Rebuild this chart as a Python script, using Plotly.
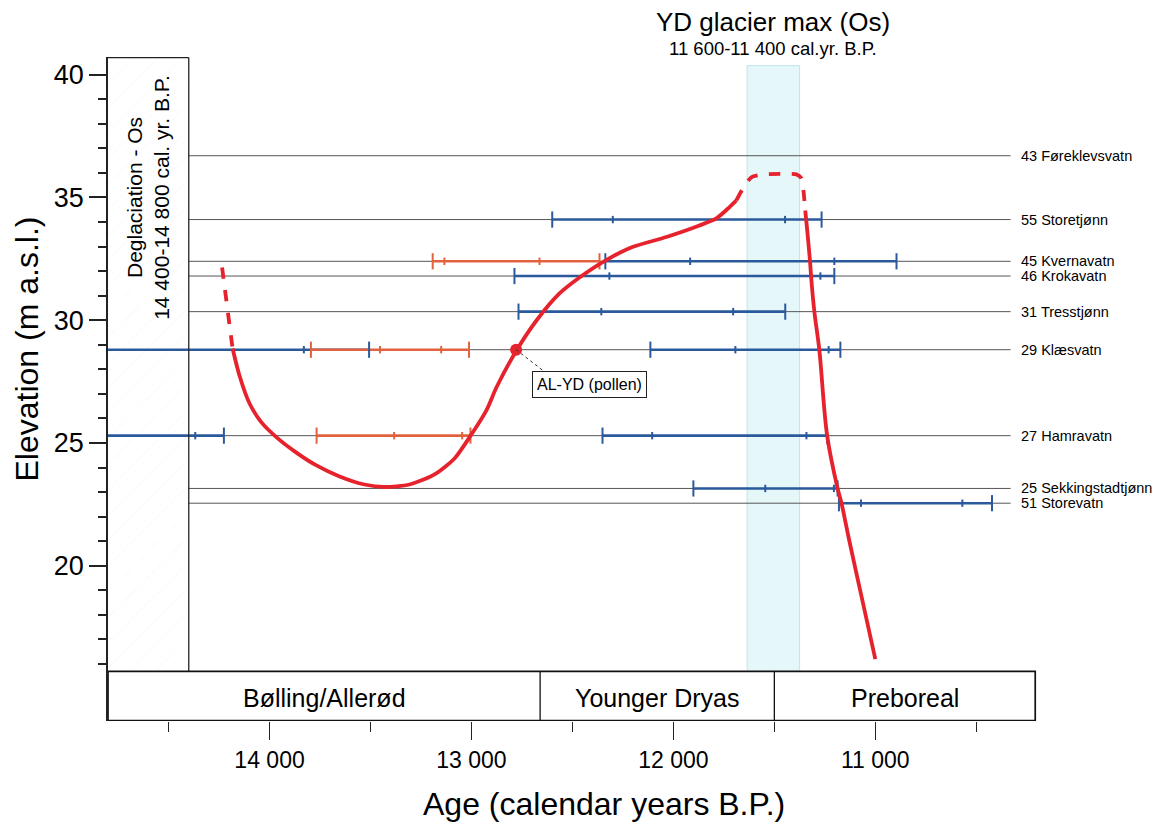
import plotly.graph_objects as go

# ---------------- data ----------------
site_names = ["43 Føreklevsvatn", "55 Storetjønn", "45 Kvernavatn", "46 Krokavatn",
              "31 Tresstjønn", "29 Klæsvatn", "27 Hamravatn", "25 Sekkingstadtjønn",
              "51 Storevatn"]
site_elev = [36.7, 34.1, 32.4, 31.8, 30.35, 28.8, 25.3, 23.15, 22.55]
site_line_old = 14400
site_line_young = 10330
label_age = 10287

# dated isolation ranges (cal. yr BP): outer range and inner range per segment
seg_site = [1, 2, 2, 3, 4, 5, 5, 5, 6, 6, 6, 7, 8]
seg_method = ["B", "O", "B", "B", "B", "B", "O", "B", "B", "O", "B", "B", "B"]
seg_old_outer = [12600, 13192, 12337, 12787, 12767, 15000, 13795, 12114, 15000, 13767, 12351, 11901, 11180]
seg_old_inner = [12300, 13134, 11917, 12317, 12357, 15000, 13453, 11693, 15000, 13383, 12105, 11545, 11071]
seg_young_inner = [11447, 12663, 11203, 11272, 11704, 13830, 13150, 11231, 14368, 13046, 11341, 11205, 10569]
seg_young_outer = [11266, 12366, 10895, 11203, 11446, 13507, 13012, 11173, 14226, 13005, 11239, 11187, 10422]

# relative sea-level curve
curve_a_age = [14235, 14183]
curve_a_elev = [32.15, 28.85]
curve_b_age = [14183, 14149, 14099, 14040, 13965, 13876, 13777, 13653, 13530, 13431, 13307,
               13183, 13084, 13010, 12926, 12876, 12777, 12678, 12564, 12465, 12337, 12203,
               12035, 11871, 11787, 11723, 11688]
curve_b_elev = [28.85, 27.75, 26.61, 25.84, 25.23, 24.66, 24.13, 23.64, 23.31, 23.21, 23.31,
                23.72, 24.37, 25.23, 26.33, 27.27, 28.77, 29.99, 31.09, 31.74, 32.43, 32.98,
                33.39, 33.86, 34.15, 34.6, 34.88]
curve_c_age = [11688, 11653, 11614, 11550, 11450, 11391, 11366, 11356, 11347]
curve_c_elev = [34.88, 35.41, 35.82, 35.94, 35.96, 35.94, 35.78, 35.29, 34.47]
curve_d_age = [11347, 11342, 11323, 11318, 11302, 11277, 11238, 11187, 11168, 11129, 11064, 11000]
curve_d_elev = [34.47, 34.07, 32.37, 31.78, 30.36, 28.77, 25.27, 23.16, 22.57, 21.03, 18.59, 16.2]

al_yd_age = 12779
al_yd_elev = 28.8

zones = ["Bølling/Allerød", "Younger Dryas", "Preboreal"]
zone_bounds = [14800, 12660, 11500, 10208]

deglac_old, deglac_young = 14800, 14400
yd_max_old, yd_max_young = 11635, 11375

x_major = [14000, 13000, 12000, 11000]
x_major_text = ["14 000", "13 000", "12 000", "11 000"]
x_minor = [14500, 13500, 12500, 11500, 10500]
y_major = [20, 25, 30, 35, 40]
y_minor = [v for v in range(16, 40) if v % 5 != 0]

# ---------------- style ----------------
FONT = "Liberation Sans, Arial, sans-serif"
BLUE = "#2b5a9c"
ORANGE = "#e2623e"
RED = "#e6222d"
GREY = "#555555"
method_color = {"B": BLUE, "O": ORANGE}
X_RANGE = [14800, 9600]
Y_RANGE = [13.68, 40.72]
bar_top = 15.7
bar_bottom = 13.7
plot_top = 40.7

fig = go.Figure()

# deglaciation hatched box
fig.add_trace(go.Scatter(
    x=[deglac_old, deglac_young, deglac_young, deglac_old, deglac_old],
    y=[bar_top, bar_top, plot_top, plot_top, bar_top],
    fill="toself", mode="lines", line=dict(width=0), fillcolor="white",
    fillpattern=dict(shape="/", fgcolor="#efefef", bgcolor="white", size=18, solidity=0.05),
    hoverinfo="skip", showlegend=False))

# site reference lines
for e in site_elev:
    fig.add_trace(go.Scatter(x=[site_line_old, site_line_young], y=[e, e], mode="lines",
                             line=dict(color=GREY, width=1), hoverinfo="skip", showlegend=False))

# dated range segments
for i in range(len(seg_site)):
    e = site_elev[seg_site[i]]
    fig.add_trace(go.Scatter(x=[seg_old_outer[i], seg_young_outer[i]], y=[e, e], mode="lines",
                             line=dict(color=method_color[seg_method[i]], width=2.6),
                             hoverinfo="skip", showlegend=False))
for i in range(len(seg_site)):
    e = site_elev[seg_site[i]]
    c = method_color[seg_method[i]]
    tx, ty = [], []
    for a in (seg_old_outer[i], seg_young_outer[i]):
        tx += [a, a, None]
        ty += [e - 0.33, e + 0.33, None]
    fig.add_trace(go.Scatter(x=tx, y=ty, mode="lines", line=dict(color=c, width=2),
                             hoverinfo="skip", showlegend=False))
    sx, sy = [], []
    for a in (seg_old_inner[i], seg_young_inner[i]):
        sx += [a, a, None]
        sy += [e - 0.15, e + 0.15, None]
    fig.add_trace(go.Scatter(x=sx, y=sy, mode="lines", line=dict(color=c, width=2),
                             hoverinfo="skip", showlegend=False))

# sea-level curve
fig.add_trace(go.Scatter(x=curve_a_age, y=curve_a_elev, mode="lines",
                         line=dict(color=RED, width=3.8, dash="dash"), hoverinfo="skip", showlegend=False))
fig.add_trace(go.Scatter(x=curve_b_age, y=curve_b_elev, mode="lines",
                         line=dict(color=RED, width=3.8, shape="spline", smoothing=0.7),
                         hoverinfo="skip", showlegend=False))
fig.add_trace(go.Scatter(x=curve_c_age, y=curve_c_elev, mode="lines",
                         line=dict(color=RED, width=3.8, dash="dash", shape="spline", smoothing=0.6),
                         hoverinfo="skip", showlegend=False))
fig.add_trace(go.Scatter(x=curve_d_age, y=curve_d_elev, mode="lines",
                         line=dict(color=RED, width=3.8, shape="spline", smoothing=1.0),
                         hoverinfo="skip", showlegend=False))

# AL-YD marker
fig.add_trace(go.Scatter(x=[al_yd_age], y=[al_yd_elev], mode="markers",
                         marker=dict(color=RED, size=12), hoverinfo="skip", showlegend=False))

shapes = []
# YD glacier max band
shapes.append(dict(type="rect", xref="x", yref="y", x0=yd_max_old, x1=yd_max_young,
                   y0=bar_top, y1=40.37, fillcolor="rgba(214,242,247,0.6)",
                   line=dict(color="rgba(170,222,232,0.7)", width=1), layer="below"))
# deglaciation box edges
shapes.append(dict(type="line", xref="x", yref="y", x0=deglac_young, x1=deglac_young,
                   y0=bar_top, y1=plot_top, line=dict(color="#222", width=1.3)))
shapes.append(dict(type="line", xref="x", yref="y", x0=deglac_old, x1=deglac_young,
                   y0=plot_top, y1=plot_top, line=dict(color="#222", width=1.3)))
# chronozone bar
shapes.append(dict(type="rect", xref="x", yref="y", x0=zone_bounds[0], x1=zone_bounds[-1],
                   y0=bar_bottom, y1=bar_top, line=dict(color="#111", width=1.7),
                   fillcolor="rgba(0,0,0,0)"))
for b in zone_bounds[1:-1]:
    shapes.append(dict(type="line", xref="x", yref="y", x0=b, x1=b, y0=bar_bottom, y1=bar_top,
                       line=dict(color="#111", width=1.3)))
# AL-YD leader line
shapes.append(dict(type="line", xref="x", yref="y", x0=al_yd_age, y0=al_yd_elev,
                   x1=12630, y1=27.85, line=dict(color="#333", width=1, dash="dot")))

annotations = []
for n, e in zip(site_names, site_elev):
    annotations.append(dict(x=label_age, y=e, xref="x", yref="y", text=n, showarrow=False,
                            xanchor="left", yanchor="middle",
                            font=dict(family=FONT, size=14.5, color="black")))
for k, z in enumerate(zones):
    annotations.append(dict(x=(zone_bounds[k] + zone_bounds[k + 1]) / 2, y=14.62,
                            xref="x", yref="y", text=z, showarrow=False,
                            font=dict(family=FONT, size=25, color="black")))
annotations.append(dict(x=12416, y=27.39, xref="x", yref="y", text="AL-YD (pollen)",
                        showarrow=False, bordercolor="#222", borderwidth=1, borderpad=4,
                        bgcolor="white", font=dict(family=FONT, size=16, color="black")))
annotations.append(dict(x=(deglac_old + deglac_young) / 2, y=35.0, xref="x", yref="y",
                        text="Deglaciation - Os<br>14 400-14 800 cal. yr. B.P.",
                        textangle=-90, showarrow=False,
                        font=dict(family=FONT, size=21, color="black")))
annotations.append(dict(x=(yd_max_old + yd_max_young) / 2, y=1.053, xref="x", yref="paper",
                        text="YD glacier max (Os)", showarrow=False, yanchor="middle",
                        font=dict(family=FONT, size=26, color="black")))
annotations.append(dict(x=(yd_max_old + yd_max_young) / 2, y=1.0135, xref="x", yref="paper",
                        text="11 600-11 400 cal.yr. B.P.", showarrow=False, yanchor="middle",
                        font=dict(family=FONT, size=18.5, color="black")))
annotations.append(dict(x=0.4724, y=-0.125, xref="paper", yref="paper",
                        text="Age (calendar years B.P.)", showarrow=False, yanchor="middle",
                        font=dict(family=FONT, size=32, color="black")))
annotations.append(dict(x=-0.0762, y=0.561, xref="paper", yref="paper",
                        text="Elevation (m a.s.l.)", showarrow=False, textangle=-90,
                        xanchor="center", yanchor="middle",
                        font=dict(family=FONT, size=32, color="black")))

fig.update_layout(
    width=1168, height=823,
    margin=dict(l=108, r=10, t=57, b=102),
    paper_bgcolor="white", plot_bgcolor="white",
    shapes=shapes, annotations=annotations,
    xaxis=dict(range=X_RANGE, showgrid=False, zeroline=False, showline=False,
               tickmode="array", tickvals=x_major, ticktext=x_major_text,
               ticks="outside", ticklen=18, tickwidth=1.3, tickcolor="#222",
               tickfont=dict(family=FONT, size=23, color="black"),
               minor=dict(tickmode="array", tickvals=x_minor, ticks="outside",
                          ticklen=10, tickwidth=1.3, tickcolor="#222")),
    yaxis=dict(range=Y_RANGE, showgrid=False, zeroline=False, showline=True,
               linecolor="#222", linewidth=1.5,
               tickmode="array", tickvals=y_major,
               ticks="outside", ticklen=17, tickwidth=1.5, tickcolor="#222",
               tickfont=dict(family=FONT, size=27, color="black"),
               minor=dict(tickmode="array", tickvals=y_minor, ticks="outside",
                          ticklen=8, tickwidth=1.5, tickcolor="#222")),
)

fig.write_html("out.html", config={"displayModeBar": False},
               post_script="document.body.style.margin='0';")
